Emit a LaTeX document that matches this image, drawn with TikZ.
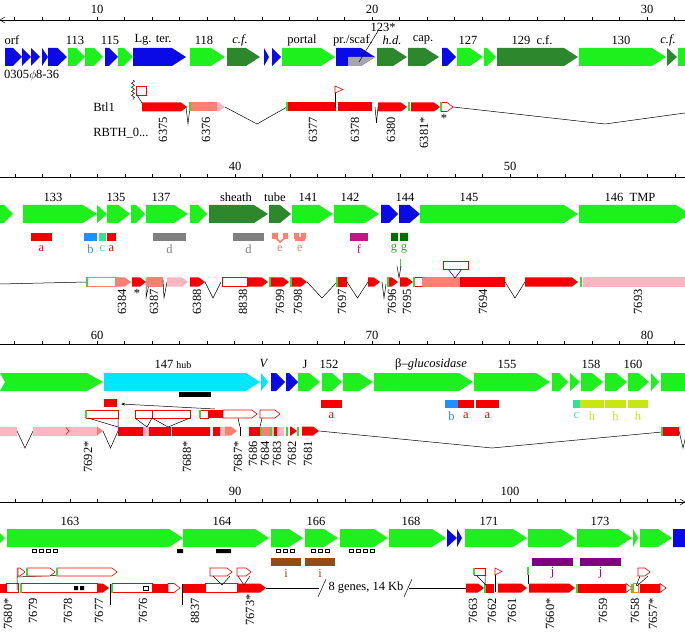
\documentclass[tikz,border=0pt]{standalone}
\usepackage{fontspec}
\setmainfont{Liberation Serif}
\usetikzlibrary{decorations.pathmorphing,arrows.meta}

\definecolor{ggreen}{RGB}{30,240,30}
\definecolor{gdark}{RGB}{45,135,45}
\definecolor{gblue}{RGB}{10,10,230}
\definecolor{gcyan}{RGB}{0,230,255}
\definecolor{rred}{RGB}{245,0,0}
\definecolor{rsalmon}{RGB}{250,128,114}
\definecolor{rpink}{RGB}{255,182,193}
\definecolor{egreen}{RGB}{60,215,60}
\definecolor{dgray}{RGB}{128,128,128}
\definecolor{dblue}{RGB}{30,144,255}
\definecolor{dspring}{RGB}{50,225,150}
\definecolor{dmag}{RGB}{199,21,133}
\definecolor{dgreen}{RGB}{0,110,0}
\definecolor{lgreen}{RGB}{50,170,50}
\definecolor{dyellow}{RGB}{200,230,20}
\definecolor{dbrown}{RGB}{150,75,20}
\definecolor{dpurple}{RGB}{128,0,128}

% gene arrow: from, to, centre y, colour
\newcommand{\garrow}[4]{%
  \pgfmathsetmacro{\headlen}{(#2-#1)<12 ? (#2-#1) : min(14,max(9,0.5*(#2-#1)))}%
  \pgfmathsetmacro{\hx}{#2-\headlen}%
  \fill[#4] (#1,#3-9) -- (\hx,#3-9) -- (#2,#3) -- (\hx,#3+9) -- (#1,#3+9) -- cycle;}
% transcript pieces
\newcommand{\rarrow}[4]{%
  \pgfmathsetmacro{\hx}{max(#1,#2-6)}%
  \fill[#4] (#1,#3-4.5) -- (\hx,#3-4.5) -- (#2,#3) -- (\hx,#3+4.5) -- (#1,#3+4.5) -- cycle;}
\newcommand{\oarrow}[3]{%
  \pgfmathsetmacro{\hx}{max(#1,#2-6)}%
  \filldraw[obox] (#1,#3-4.5) -- (\hx,#3-4.5) -- (#2,#3) -- (\hx,#3+4.5) -- (#1,#3+4.5) -- cycle;}
\newcommand{\rbox}[4]{\fill[#4] (#1,#3-4.5) rectangle (#2,#3+4.5);}
\newcommand{\gedge}[2]{\draw[egreen, line width=1.2pt] (#1,#2-4.5) -- (#1,#2+4.5);}
\newcommand{\dip}[4]{\draw (#1,#3) -- ({(#1+#2)/2},#4) -- (#2,#3);}
\newcommand{\ibox}[3]{\filldraw[obox] (#1,#3) -- (#2-5,#3) -- (#2,#3+4) -- (#2-5,#3+8) -- (#1,#3+8) -- cycle;}

\begin{document}
\begin{tikzpicture}[x=1pt, y=-1pt,
    every node/.style={font=\fontsize{12.5}{14}\selectfont, inner sep=0pt},
    locus/.style={rotate=90, anchor=east},
    obox/.style={draw=rred, fill=white, line width=0.6pt},
    line width=0.5pt
]
\useasboundingbox (0,0) rectangle (685,636);
\clip (0,0) rectangle (685,636);

% Rulers
\foreach \y/\s in {20/14.5, 177/15, 344/14.5, 502/15} {
  \draw (0,\y) -- (685,\y);
  \foreach \k in {0,...,24} \draw (\s+27.5*\k,\y) -- (\s+27.5*\k,\y-3);
}
\draw (5,17) -- (0,20) -- (5,23);
\draw (680,499) -- (685,502) -- (680,505);
\foreach \x/\y/\t [count=\i] in {97/9/10, 372/9/20, 647/9/30, 235/166/40, 510/166/50,
    97/335/60, 372/335/70, 647/335/80, 235/491/90, 510/491/100}
  \node (kb\i) at (\x,\y) {\t};

% Gene labels
\foreach \x/\t [count=\i] in {12/orf, 75/113, 110/115, 153/{Lg. ter.}, 204/118,
    240/{\textit{c.f.}}, 302/portal, 353/{pr./scaf.}, 392/{\textit{h.d.}}, 423/cap.,
    468/127, 532/{129\ \ c.f.}, 621/130, 668/{\textit{c.f.}}}
  \node (ga\i) at (\x,40) {\t};
\foreach \x/\t [count=\i] in {53/133, 116/135, 161/137, 236/sheath, 275/tube, 308/141,
    350/142, 405/144, 469/145, 630/{146\ \ TMP}}
  \node (gb\i) at (\x,197) {\t};
\foreach \x/\t [count=\i] in {173/{147 {\fontsize{10}{12}\selectfont hub}}, 264/{\textit{V}},
    305/J, 329/152, 431/{β–\textit{glucosidase}}, 507/155, 591/158, 633/160}
  \node (gc\i) at (\x,364) {\t};
\foreach \x/\t [count=\i] in {70/163, 222/164, 316/166, 411/168, 489/171, 600/173}
  \node (gd\i) at (\x,521) {\t};

% Panel 1 genes
\foreach \a/\b/\c in {5/22/gblue, 22/31/gblue, 31/40/gblue, 42/48/gblue, 48/67/gblue,
    68/85/ggreen, 85/103/ggreen, 105/118/gblue, 118/133/ggreen, 133/186/gblue,
    190/225/ggreen, 227/260/gdark, 264/269/gblue, 272/281/gblue, 282/335/ggreen,
    336/375/gblue, 377/407/gdark, 408/439/gdark, 442/456/gblue, 457/483/ggreen,
    484/496/ggreen, 497/578/gdark, 579/666/ggreen, 667/677/gdark, 678/700/ggreen}
  {\garrow{\a}{\b}{57}{\c}}
\fill[dgray!70] (348,57) -- (375,57) -- (361,66) -- (348,66) -- cycle;
\node (p123) at (383,27) {123*};
\draw (378,31) -- (359,62);
\node[anchor=west] (phage) at (4,76) {0305$\phi$8-36};
\node[anchor=west] (btl) at (93,107) {Btl1};
\node[anchor=west] (rbth) at (93,133) {RBTH\_0...};

% Panel 1 transcripts
\draw[decorate, decoration={snake, amplitude=1.5pt, segment length=4pt}] (133,80) -- (133,100);
\filldraw[obox] (136,86) rectangle (146,95);
\draw (137,95) -- (142,103);
\rarrow{142}{187}{107}{rred}
\dip{186}{190}{107}{124}
\gedge{190}{107}
\rbox{191}{217}{107}{rsalmon}
\rarrow{217}{225}{107}{rpink}
\draw (225,107) -- (257,124) -- (287,107);
\rbox{287}{336}{107}{rred}
\gedge{287}{107}
\draw (335,107) -- (335,86);
\filldraw[obox] (335,86) -- (343,89.5) -- (335,93) -- cycle;
\rbox{338}{372}{107}{rred}
\dip{375}{378}{107}{123}
\rarrow{378}{407}{107}{rred}
\gedge{409}{107}
\rarrow{411}{440}{107}{rred}
\oarrow{441}{453}{107}
\gedge{441}{107}
\node (s1) at (444,118) {*};
\draw (453,107) -- (605,124) -- (685,113);
\foreach \x/\t [count=\i] in {163/6375, 206/6376, 313/6377, 355/6378, 391/6380, 424/6381*}
  \node[locus] (la\i) at (\x,117) {\t};

% Panel 2 genes
\foreach \a/\b/\c in {-5/13/ggreen, 23/97/ggreen, 97/107/ggreen, 107/130/ggreen,
    131/145/ggreen, 146/188/ggreen, 190/207/ggreen, 209/268/gdark, 269/291/gdark,
    292/333/ggreen, 334/379/ggreen, 381/398/gblue, 399/420/gblue, 420/578/ggreen,
    579/690/ggreen}
  {\garrow{\a}{\b}{214}{\c}}

% Panel 2 domains
\foreach \a/\b/\c/\t [count=\i] in {31/52/rred/a, 84/97/dblue/b, 99/106/dspring/c,
    107/116/rred/a, 153/186/dgray/d, 233/264/dgray/d, 350/368/dmag/f} {
  \fill[\c] (\a,233) rectangle (\b,241);
  \node[text=\c] (db\i) at ({(\a+\b)/2},249) {\t};
}
\fill[rsalmon] (272,233) rectangle (278,239) (283,233) rectangle (288,239);
\draw[rsalmon, line width=1.5pt] (276,238) -- (280,242) -- (285,238);
\fill[rsalmon] (294,233) rectangle (299,239) (301,233) rectangle (306,239) (295,237) rectangle (305,241);
\node[text=rsalmon] (de1) at (280,249) {e};
\node[text=rsalmon] (de2) at (300,249) {e};
\fill[dgreen] (391,233) rectangle (398,241) (400,233) rectangle (408,241);
\node[text=lgreen] (dg1) at (394,249) {g};
\node[text=lgreen] (dg2) at (404,249) {g};

% Panel 2 transcripts
\draw (0,284) -- (87,282);
\filldraw[draw=rsalmon, fill=white] (87,277.5) rectangle (115,286.5);
\gedge{87}{282}
\rarrow{115}{131}{282}{rsalmon}
\rarrow{132}{146}{282}{rred}
\node (s2) at (137,293) {*};
\draw (146,278) -- (146,298) -- (149,284);
\rbox{147}{163}{282}{rsalmon}
\draw (163,280) -- (164,298) -- (167,282);
\rarrow{167}{188}{282}{rpink}
\rarrow{190}{205}{282}{rred}
\dip{205}{221}{282}{298}
\filldraw[obox] (222,277.5) rectangle (247,286.5);
\rarrow{247}{268}{282}{rred}
\rarrow{270}{289}{282}{rred}
\gedge{270}{282}
\rarrow{291}{307}{282}{rred}
\gedge{291}{282}
\dip{307}{337}{282}{298}
\rbox{337}{347}{282}{rred}
\gedge{337}{282}
\dip{347}{368}{282}{298}
\rarrow{368}{380}{282}{rred}
\draw (382,282) -- (384,298) -- (386,284);
\rarrow{388}{398}{282}{rred}
\gedge{388}{282}
\rarrow{400}{413}{282}{rred}
\draw[egreen, line width=1pt] (400,259) -- (400,268);
\draw (397,266) -- (399,278) -- (401,266);
\filldraw[draw=rred, fill=white] (414,277.5) rectangle (422,286.5);
\gedge{414}{282}
\rbox{422}{460}{282}{rsalmon}
\rbox{460}{505}{282}{rred}
\filldraw[obox] (443,261) rectangle (468,269);
\draw (448,269) -- (455,278) -- (462,269);
\dip{505}{525}{282}{298}
\rarrow{525}{578}{282}{rred}
\gedge{581}{282}
\rbox{583}{690}{282}{rpink}
\foreach \x/\t [count=\i] in {122/6384, 154/6387, 197/6388, 243/8838, 280/7699, 298/7698,
    342/7697, 392/7696, 407/7695, 483/7694, 638/7693}
  \node[locus] (lb\i) at (\x,289) {\t};

% Panel 3 genes
\fill[ggreen] (0,373) -- (87,373) -- (103,382) -- (87,391) -- (0,391) -- (5,382) -- cycle;
\foreach \a/\b/\c in {104/260/gcyan, 261/268/gcyan, 271/285/gblue, 286/298/gblue,
    298/320/ggreen, 322/342/ggreen, 343/373/ggreen, 374/473/ggreen, 474/550/ggreen,
    552/568/ggreen, 570/580/ggreen, 581/603/ggreen, 605/627/ggreen, 628/649/ggreen,
    651/659/ggreen, 661/700/ggreen}
  {\garrow{\a}{\b}{382}{\c}}
\fill (179,392) rectangle (211,397);

% Panel 3 domains
\foreach \a/\b/\c/\t [count=\i] in {321/342/rred/a, 445/458/dblue/b, 458/474/rred/a,
    476/499/rred/a, 573/580/dspring/c, 580/604/dyellow/h, 605/626/dyellow/h, 628/648/dyellow/h} {
  \fill[\c] (\a,400) rectangle (\b,408);
  \node[text=\c] (dc\i) at ({(\a+\b)/2},416) {\t};
}

% Panel 3 transcripts
\fill[rred] (104,399) rectangle (117,407);
\draw[-{Stealth[length=4pt,width=3pt]}] (215,409) -- (121,404);
\filldraw[obox] (86,410) rectangle (118,418);
\draw[egreen, line width=1.2pt] (86,410) -- (86,418);
\draw (88,418) -- (118,427) (118,418) -- (118,427);
\filldraw[obox] (135,410) rectangle (152,418) (152,410) rectangle (190,418);
\draw (135,418) -- (147,427) -- (152,418) -- (168,427) -- (190,418);
\filldraw[obox] (200,410) rectangle (208,418);
\draw[egreen, line width=1.2pt] (200,410) -- (200,418);
\fill[rred] (208,410) rectangle (223,418);
\ibox{223}{257}{410}
\ibox{260}{280}{410}
\draw (238,418) -- (240,427);
\draw (262,418) -- (260,427);
\rbox{0}{17}{431}{rpink}
\dip{17}{33}{431}{448}
\rbox{33}{97}{431}{rpink}
\draw[rred] (66,427.5) -- (69,431) -- (66,434.5);
\rarrow{97}{103}{431}{rsalmon}
\dip{103}{118}{431}{448}
\rbox{118}{210}{431}{rred}
\fill[rpink] (143,426.5) rectangle (149,435.5);
\draw[white, line width=1pt] (171,426.5) -- (171,435.5);
\rbox{213}{220}{431}{rred}
\rbox{220}{225}{431}{rpink}
\rarrow{225}{237}{431}{rsalmon}
\draw (240,427) -- (240,436);
\rbox{249}{260}{431}{rred}
\gedge{261}{431}
\rbox{262}{270}{431}{rsalmon}
\gedge{271}{431}
\rbox{272}{274}{431}{rpink}
\rbox{274}{277}{431}{rred}
\rbox{277}{284}{431}{rpink}
\gedge{287}{431}
\rarrow{290}{297}{431}{rred}
\gedge{298}{431}
\rarrow{302}{319}{431}{rred}
\draw (319,431) -- (492,448) -- (662,432);
\rbox{662}{679}{431}{rred}
\gedge{662}{431}
\dip{679}{687}{431}{448}
\foreach \x/\t [count=\i] in {88/7692*, 187/7688*, 238/7687*, 253/7686, 265/7684,
    277/7683, 292/7682, 308/7681}
  \node[locus] (lc\i) at (\x,441) {\t};

% Panel 4 genes
\foreach \a/\b/\c in {-10/5/ggreen, 7/183/ggreen, 183/269/ggreen, 271/303/ggreen,
    305/338/ggreen, 340/388/ggreen, 389/446/ggreen, 447/457/gblue, 457/462/gblue,
    465/527/ggreen, 528/575/ggreen, 577/632/ggreen, 633/638/ggreen, 640/672/ggreen,
    673/700/gblue}
  {\garrow{\a}{\b}{538}{\c}}
\foreach \x in {32,39,46,53,276,283,290,311,318,325,349,356,363,370}
  \draw (\x,549) rectangle (\x+4.5,552.5);
\fill (177,549) rectangle (183,553) (216,549) rectangle (231,553);

% Panel 4 domains
\foreach \a/\b/\c/\t [count=\i] in {271/301/dbrown/i, 305/335/dbrown/i,
    532/573/dpurple/j, 580/621/dpurple/j} {
  \fill[\c] (\a,558) rectangle (\b,566);
  \node[text=\c] (dd\i) at ({(\a+\b)/2},573) {\t};
}

% Panel 4 transcripts
\rbox{0}{6}{588}{rred}
\filldraw[obox] (6,583.5) rectangle (18,592.5);
\draw (17,568) -- (17,590) (17,577) -- (115,573);
\ibox{18}{25}{568}
\ibox{27}{55}{568}
\ibox{57}{117}{568}
\draw[egreen, line width=1.2pt] (27,568) -- (27,576) (57,568) -- (57,576);
\filldraw[obox] (21,583.5) rectangle (97,592.5);
\gedge{21}{588}
\fill (74,586) rectangle (78,590) (80,586) rectangle (84,590);
\rarrow{97}{109}{588}{rred}
\draw (110,584) -- (110,605);
\filldraw[obox] (112,583.5) rectangle (152,592.5);
\gedge{112}{588}
\draw (143,586) rectangle (148,590);
\rbox{152}{168}{588}{rred}
\oarrow{168}{180}{588}
\draw (182,584) -- (182,605);
\rbox{183}{205}{588}{rred}
\filldraw[obox] (205,583.5) rectangle (237,592.5);
\rarrow{237}{266}{588}{rred}
\ibox{210}{232}{568}
\draw (213,576) -- (222,585) -- (230,576);
\ibox{237}{251}{568}
\draw (238,576) -- (244,585) -- (250,576);
\draw (266,588) -- (319,588);
\draw (318,597) -- (326,579);
\node (brk) at (366,588) {8 genes, 14 Kb};
\draw (404,597) -- (412,579);
\draw (409,588) -- (466,588);
\rarrow{466}{484}{588}{rred}
\gedge{485}{588}
\rbox{486}{494}{588}{rred}
\filldraw[obox] (474,568) rectangle (485,575);
\draw[egreen, line width=1.2pt] (474,568) -- (474,575);
\draw (476,575) -- (486,585) (485,575) -- (485,585);
\draw (495,592) -- (495,568);
\filldraw[obox] (495,568) -- (502,571.5) -- (495,575) -- cycle;
\rarrow{498}{527}{588}{rred}
\draw[egreen, line width=1.2pt] (528,567) -- (528,575);
\draw (528,575) -- (528,584);
\rarrow{529}{575}{588}{rred}
\gedge{577}{588}
\rbox{578}{626}{588}{rred}
\oarrow{626}{632}{588}
\gedge{632}{588}
\filldraw[draw=orange, fill=white] (633,583.5) rectangle (638,592.5);
\rbox{640}{660}{588}{rred}
\oarrow{660}{666}{588}
\ibox{638}{650}{568}
\draw (640,576) -- (636,586) (648,576) -- (637,586);
\foreach \x/\y/\t [count=\i] in {8/598/7680*, 33/598/7679, 68/598/7678, 99/598/7677,
    143/598/7676, 195/598/8837, 250/594/7673*, 473/598/7663, 492/598/7662, 512/598/7661,
    550/598/7660*, 603/598/7659, 635/598/7658, 653/598/7657*}
  \node[locus] (ld\i) at (\x,\y) {\t};

\end{tikzpicture}
\end{document}
